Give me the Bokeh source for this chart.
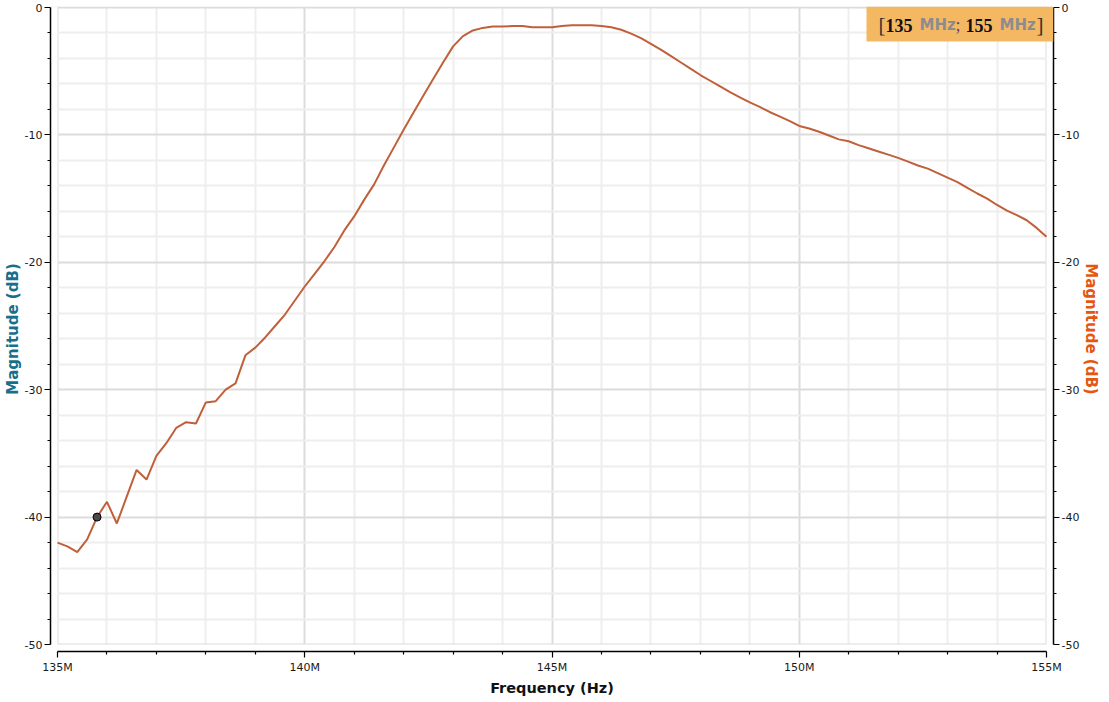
from bokeh.plotting import figure
from bokeh.models import (LinearAxis, FixedTicker, Range1d, BoxAnnotation, Label)
from bokeh.embed import file_html
from bokeh.resources import INLINE

# ---------------- data ----------------
freq_mhz = [135.0, 135.2, 135.4, 135.6, 135.8, 136.0, 136.2, 136.4, 136.6, 136.8,
            137.0, 137.2, 137.4, 137.6, 137.8, 138.0, 138.2, 138.4, 138.6, 138.8,
            139.0, 139.2, 139.4, 139.6, 139.8, 140.0, 140.2, 140.4, 140.6, 140.8,
            141.0, 141.2, 141.4, 141.6, 141.8, 142.0, 142.2, 142.4, 142.6, 142.8,
            143.0, 143.2, 143.4, 143.6, 143.8, 144.0, 144.2, 144.4, 144.6, 144.8,
            145.0, 145.2, 145.4, 145.6, 145.8, 146.0, 146.2, 146.4, 146.6, 146.8,
            147.0, 147.2, 147.4, 147.6, 147.8, 148.0, 148.2, 148.4, 148.6, 148.8,
            149.0, 149.2, 149.4, 149.6, 149.8, 150.0, 150.2, 150.4, 150.6, 150.8,
            151.0, 151.2, 151.4, 151.6, 151.8, 152.0, 152.2, 152.4, 152.6, 152.8,
            153.0, 153.2, 153.4, 153.6, 153.8, 154.0, 154.2, 154.4, 154.6, 154.8,
            155.0]
magnitude_db = [-42.0, -42.3, -42.75, -41.75, -40.0, -38.8, -40.5, -38.4, -36.3, -37.05,
                -35.2, -34.2, -33.0, -32.55, -32.65, -31.0, -30.9, -30.0, -29.5, -27.3,
                -26.7, -25.9, -25.0, -24.1, -23.0, -21.9, -20.9, -19.9, -18.8, -17.5,
                -16.4, -15.1, -13.9, -12.4, -11.0, -9.6, -8.25, -6.9, -5.6, -4.3,
                -3.05, -2.25, -1.8, -1.6, -1.5, -1.5, -1.45, -1.45, -1.55, -1.55,
                -1.55, -1.45, -1.4, -1.4, -1.4, -1.45, -1.55, -1.75, -2.05, -2.4,
                -2.85, -3.3, -3.8, -4.3, -4.8, -5.3, -5.75, -6.2, -6.65, -7.05,
                -7.45, -7.8, -8.2, -8.55, -8.9, -9.3, -9.5, -9.75, -10.05, -10.35,
                -10.5, -10.8, -11.05, -11.3, -11.55, -11.8, -12.1, -12.4, -12.65, -13.0,
                -13.35, -13.7, -14.15, -14.6, -15.0, -15.5, -15.95, -16.3, -16.7, -17.3,
                -18.0]
marker_mhz = [135.8]
marker_db = [-40.0]

x_tick_mhz = [135, 140, 145, 150, 155]
x_tick_labels = ["135M", "140M", "145M", "150M", "155M"]
x_minor_mhz = [136, 137, 138, 139, 141, 142, 143, 144, 146, 147, 148, 149,
               151, 152, 153, 154]
y_ticks = [-50, -40, -30, -20, -10, 0]
y_tick_labels = ["-50", "-40", "-30", "-20", "-10", "0"]
y_minor = [-48, -46, -44, -42, -38, -36, -34, -32, -28, -26, -24, -22,
           -18, -16, -14, -12, -8, -6, -4, -2]

range_text = ["[", "135", "MHz", ";", "155", "MHz", "]"]

# ---------------- figure ----------------
FONT = "DejaVu Sans"
X0, X1 = 135.0, 155.0
Y0, Y1 = -50.0, 0.0
FW, FH = 1003, 645          # frame size in px
PAD_L, PAD_B, PAD_T = 7, 7, 1
x_per_px = (X1 - X0) / (FW - 2 * PAD_L)
y_per_px = (Y1 - Y0) / (FH - PAD_B - PAD_T)

freq_hz = [f * 1e6 for f in freq_mhz]
marker_hz = [f * 1e6 for f in marker_mhz]

p = figure(frame_width=FW, frame_height=FH, output_backend="svg", toolbar_location=None,
           x_range=Range1d((X0 - PAD_L * x_per_px) * 1e6, (X1 + PAD_L * x_per_px) * 1e6),
           y_range=Range1d(Y0 - PAD_B * y_per_px, Y1 + PAD_T * y_per_px),
           min_border_left=44, min_border_right=46, min_border_top=6,
           min_border_bottom=43, outline_line_color=None,
           background_fill_color="white", border_fill_color="white")

p.xaxis.visible = False
p.yaxis.visible = False

def style_axis(ax, ticks, minor, labels):
    ax.ticker = FixedTicker(ticks=ticks, minor_ticks=minor)
    ax.major_label_overrides = {t: l for t, l in zip(ticks, labels)}
    ax.axis_line_color = "black"
    ax.axis_line_width = 1.5
    ax.major_tick_line_color = "black"
    ax.minor_tick_line_color = "black"
    ax.major_tick_line_width = 1.2
    ax.minor_tick_line_width = 1.2
    ax.major_tick_in = 0
    ax.major_tick_out = 6
    ax.minor_tick_in = 0
    ax.minor_tick_out = 3
    ax.major_label_text_font = FONT
    ax.major_label_text_font_size = "11px"
    ax.major_label_text_color = "#1a1a1a"
    ax.major_label_standoff = 2
    ax.axis_label_text_font = FONT
    ax.axis_label_text_font_style = "bold"
    ax.axis_label_text_font_size = "15px"
    ax.axis_label_standoff = 0

xticks_hz = [t * 1e6 for t in x_tick_mhz]
xminor_hz = [t * 1e6 for t in x_minor_mhz]

xax = LinearAxis(axis_label="Frequency (Hz)")
style_axis(xax, xticks_hz, xminor_hz, x_tick_labels)
xax.bounds = (X0 * 1e6, X1 * 1e6)
xax.major_label_standoff = 3
xax.axis_label_standoff = 3
xax.axis_label_text_font_size = "14.5px"
xax.axis_label_text_color = "#111111"
p.add_layout(xax, "below")

yl = LinearAxis(axis_label="Magnitude (dB)")
style_axis(yl, y_ticks, y_minor, y_tick_labels)
yl.bounds = (Y0, Y1)
yl.axis_label_text_color = "#16708c"
p.add_layout(yl, "left")

yr = LinearAxis(axis_label="Magnitude (dB)")
style_axis(yr, y_ticks, y_minor, y_tick_labels)
yr.bounds = (Y0, Y1)
yr.axis_label_text_color = "#e5560f"
p.add_layout(yr, "right")

# grids
for g, tk in ((p.xgrid, FixedTicker(ticks=xticks_hz, minor_ticks=xminor_hz)),
              (p.ygrid, FixedTicker(ticks=y_ticks, minor_ticks=y_minor))):
    g.ticker = tk
    g.grid_line_color = "#dcdcdc"
    g.grid_line_width = 2
    g.minor_grid_line_color = "#eeeeee"
    g.minor_grid_line_width = 2

# white strips separating the axes from the grid
for kw in (dict(right=X0 * 1e6), dict(left=X1 * 1e6), dict(top=Y0)):
    p.add_layout(BoxAnnotation(fill_color="white", fill_alpha=1.0,
                               line_color=None, level="underlay", **kw))

# curve + marker
p.line(freq_hz, magnitude_db, line_color="#c0603a", line_width=2)
p.scatter(marker_hz, marker_db, size=8, fill_color="#4a4a4a",
          line_color="black", line_width=1)

# range legend box (screen units relative to the frame, y from the bottom)
BL, BW, BH = FW - 187, 187, 35
p.add_layout(BoxAnnotation(left=BL, right=BL + BW, top=FH, bottom=FH - BH,
                           left_units="screen", right_units="screen",
                           top_units="screen", bottom_units="screen",
                           fill_color="#f5b862", fill_alpha=1.0, line_color=None))

offs = [12, 19, 53, 89, 99, 133, 170]
fonts = ["Liberation Serif", "Liberation Serif", FONT, "Liberation Serif",
         "Liberation Serif", FONT, "Liberation Serif"]
sizes = ["21px", "18px", "15px", "18px", "18px", "15px", "21px"]
styles = ["normal", "bold", "bold", "normal", "bold", "bold", "normal"]
colors = ["#333333", "#111111", "#8c8c8c", "#6b3a80", "#111111", "#8c8c8c", "#333333"]
for t, o, f, s, st, c in zip(range_text, offs, fonts, sizes, styles, colors):
    p.add_layout(Label(x=BL + o, y=FH - BH / 2 - 1, x_units="screen", y_units="screen",
                       text=t, text_font=f, text_font_size=s, text_font_style=st,
                       text_color=c, text_baseline="middle", text_align="left"))

open("out.html", "w").write(file_html(p, INLINE))
